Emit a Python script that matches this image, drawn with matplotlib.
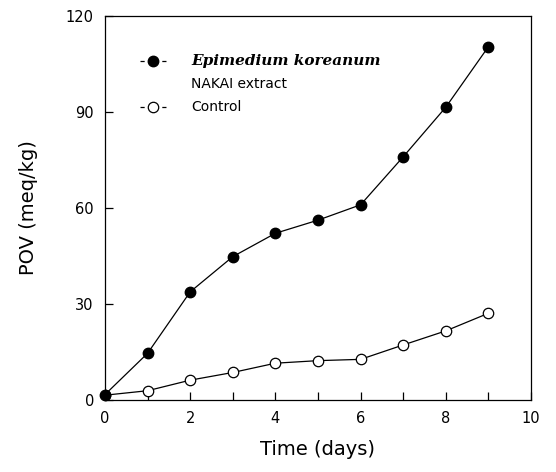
import numpy as np
import matplotlib
matplotlib.use("Agg")
import matplotlib.pyplot as plt
from matplotlib.lines import Line2D
from matplotlib.ticker import MultipleLocator

plt.rcParams['font.family'] = ['DejaVu Sans']
plt.rcParams['lines.scale_dashes'] = False

days = [0, 1, 2, 3, 4, 5, 6, 7, 8, 9]
extract_pov = [1.7, 14.6, 33.8, 44.8, 52.1, 56.2, 61.0, 76.0, 91.5, 110.4]
control_pov = [1.5, 2.9, 6.2, 8.6, 11.5, 12.3, 12.7, 17.2, 21.6, 27.1]

fig = plt.figure(figsize=(5.56, 4.72), dpi=100)
ax = fig.add_axes([105/556, 1-400/472, 426/556, 384/472])

ax.plot(days, control_pov, color='k', lw=0.9, marker='o', ms=7.5,
        mfc='white', mec='k', mew=0.9, zorder=2)
ax.plot(days, extract_pov, color='k', lw=0.9, marker='o', ms=7.5,
        mfc='k', mec='k', zorder=3, clip_on=False)

ax.set_xlim(0, 10)
ax.set_ylim(0, 120)
ax.xaxis.set_major_locator(MultipleLocator(2))
ax.xaxis.set_minor_locator(MultipleLocator(1))
ax.yaxis.set_major_locator(MultipleLocator(30))
ax.tick_params(which='both', direction='in', length=6, width=0.9,
               top=False, right=False, labelsize=10.5)
ax.tick_params(axis='x', pad=8)
ax.tick_params(axis='y', pad=8)
for s in ax.spines.values():
    s.set_linewidth(0.9)

ax.set_xlabel('Time (days)', fontsize=14, labelpad=10)
ax.set_ylabel('POV (meq/kg)', fontsize=14, labelpad=20)

dash = (0, (3, 12.7))
handles = [Line2D([], [], color='k', lw=0.9, ls=dash, marker='o', ms=7.5, mfc='k'),
           Line2D([], [], ls='none'),
           Line2D([], [], color='k', lw=0.9, ls=dash, marker='o', ms=7.5,
                  mfc='white', mew=0.9)]
labels = ['Epimedium koreanum', 'NAKAI extract', 'Control']
leg = ax.legend(handles, labels, loc='upper left', bbox_to_anchor=(0.082, 0.9),
                frameon=False, fontsize=10, handlelength=1.87, handletextpad=1.8,
                labelspacing=0.65, borderpad=0, borderaxespad=0)
leg.get_texts()[0].set_fontfamily('DejaVu Serif')
leg.get_texts()[0].set_fontstyle('italic')
leg.get_texts()[0].set_fontweight('bold')
leg.get_texts()[0].set_fontsize(11)

fig.savefig('out.png', dpi=100)
